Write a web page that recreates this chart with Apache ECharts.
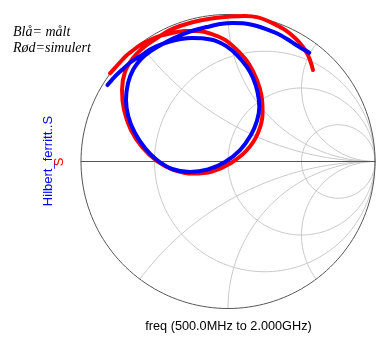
<!DOCTYPE html>
<html><head><meta charset="utf-8">
<script src="https://cdn.jsdelivr.net/npm/echarts@6/dist/echarts.min.js"></script>
<style>html,body{margin:0;padding:0;background:#fff}#c{width:377px;height:338px}</style>
</head><body><div id="c"></div>
<script>
// Smith chart grid values
const resistanceValues = [1/3, 1, 3];
const reactanceValues = [0.5, 1, 2];
const legendLines = ['Blå= målt', 'Rød=simulert'];
const traceNameBlue = 'Hilbert_ferritt..S';
const traceNameRed = 'S';
const freqLabel = 'freq (500.0MHz to 2.000GHz)';

// Reflection coefficient, simulated (red): real and imaginary parts
const redRe = [-0.803,-0.748,-0.694,-0.639,-0.585,-0.524,-0.463,-0.381,-0.293,-0.204,-0.109,-0.020,0.068,0.143,0.197,0.228,0.235,0.204,0.129,0.020,-0.109,-0.238,-0.367,-0.483,-0.585,-0.660,-0.707,-0.721,-0.701,-0.646,-0.571,-0.483,-0.395,-0.293,-0.190,-0.088,0.014,0.116,0.204,0.306,0.388,0.456,0.510,0.544,0.565,0.578];
const redIm = [0.600,0.660,0.718,0.762,0.799,0.830,0.854,0.874,0.888,0.888,0.867,0.827,0.752,0.663,0.554,0.446,0.330,0.194,0.078,-0.010,-0.068,-0.082,-0.058,0.003,0.099,0.214,0.350,0.486,0.609,0.704,0.779,0.840,0.895,0.932,0.959,0.976,0.986,0.990,0.980,0.940,0.895,0.840,0.779,0.724,0.670,0.622];

// Reflection coefficient, measured (blue)
const blueRe = [-0.820,-0.776,-0.723,-0.660,-0.587,-0.524,-0.463,-0.395,-0.320,-0.245,-0.163,-0.088,-0.014,0.061,0.127,0.170,0.201,0.213,0.197,0.156,0.082,-0.020,-0.136,-0.259,-0.381,-0.483,-0.565,-0.633,-0.677,-0.694,-0.680,-0.643,-0.592,-0.531,-0.463,-0.381,-0.293,-0.211,-0.134,-0.054,0.034,0.116,0.184,0.259,0.331,0.401,0.469,0.553];
const blueIm = [0.520,0.571,0.622,0.677,0.724,0.765,0.793,0.816,0.833,0.840,0.837,0.823,0.786,0.724,0.645,0.568,0.473,0.371,0.276,0.180,0.078,-0.003,-0.054,-0.071,-0.051,0.010,0.092,0.194,0.303,0.418,0.534,0.629,0.697,0.748,0.789,0.833,0.872,0.898,0.917,0.935,0.942,0.939,0.925,0.901,0.872,0.833,0.789,0.740];

function zip(a, b) { return a.map((v, i) => [v, b[i]]); }
function resCircle(r) {
  const c = r / (1 + r), rad = 1 / (1 + r), pts = [];
  for (let t = 0; t <= 360; t += 2) { const a = t * Math.PI / 180; pts.push([c + rad * Math.cos(a), rad * Math.sin(a)]); }
  return pts;
}
function reactArc(x) {
  const pts = [];
  const rs = [0];
  for (let k = -60; k <= 100; k++) rs.push(Math.pow(10, k / 30));
  rs.forEach(r => { const d = (r + 1) * (r + 1) + x * x; pts.push([(r * r + x * x - 1) / d, 2 * x / d]); });
  pts.push([1, 0]);
  return pts;
}
const gridColor = '#c8c8c8';
const series = [];
function lineSeries(data, color, width, z) {
  return { type: 'line', data, showSymbol: false, symbol: 'none', clip: false, silent: true, z: z,
    lineStyle: { color, width, cap: 'round', join: 'round' }, animation: false };
}
resistanceValues.forEach(r => series.push(lineSeries(resCircle(r), gridColor, 1, 1)));
reactanceValues.forEach(x => { series.push(lineSeries(reactArc(x), gridColor, 1, 1)); series.push(lineSeries(reactArc(-x), gridColor, 1, 1)); });
series.push(lineSeries(resCircle(0), '#555', 1, 2));
series.push(lineSeries([[-1, 0], [1, 0]], '#555', 1, 2));
const red = lineSeries(zip(redRe, redIm), '#ff0000', 4, 3); red.smooth = 0.3; series.push(red);
const blue = lineSeries(zip(blueRe, blueIm), '#0000ff', 4, 4); blue.smooth = 0.3; series.push(blue);

const chart = echarts.init(document.getElementById('c'));
chart.setOption({
  animation: false,
  grid: { left: 81, top: 14.5, width: 294, height: 294 },
  xAxis: { type: 'value', min: -1, max: 1, show: false },
  yAxis: { type: 'value', min: -1, max: 1, show: false },
  series,
  graphic: [
    { type: 'text', left: 13, top: 25, style: { text: legendLines[0], font: 'italic 14px "Liberation Serif"', fill: '#000' } },
    { type: 'text', left: 13, top: 41.5, style: { text: legendLines[1], font: 'italic 14px "Liberation Serif"', fill: '#000' } },
    { type: 'text', x: 48, y: 161, rotation: Math.PI / 2, style: { text: traceNameBlue, font: '13px "Liberation Sans"', fill: '#0000ff', align: 'center', verticalAlign: 'middle' } },
    { type: 'text', x: 59, y: 162, rotation: Math.PI / 2, style: { text: traceNameRed, font: '13px "Liberation Sans"', fill: '#ff0000', align: 'center', verticalAlign: 'middle' } },
    { type: 'text', x: 228.5, y: 326.5, style: { text: freqLabel, font: '12.7px "Liberation Sans"', fill: '#000', align: 'center', verticalAlign: 'middle' } }
  ]
});
</script></body></html>
